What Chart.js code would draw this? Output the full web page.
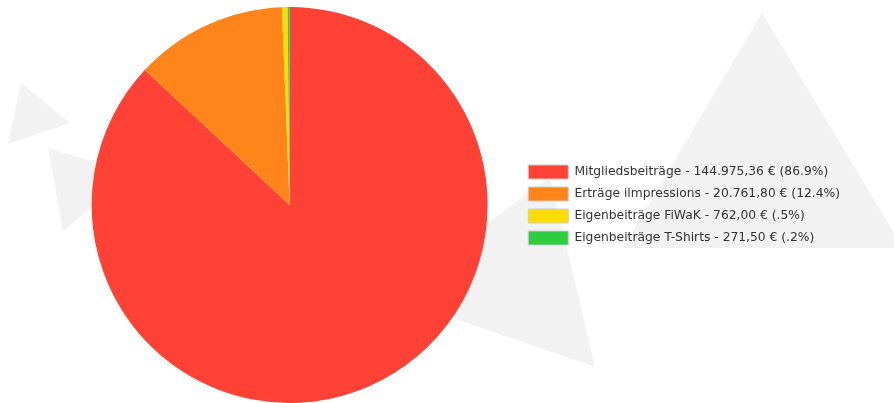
<!DOCTYPE html>
<html>
<head>
<meta charset="utf-8">
<script src="https://cdn.jsdelivr.net/npm/chart.js@4"></script>
<style>
    html, body { margin: 0; padding: 0; background: #fff; }
    #wrap { width: 894px; height: 403px; position: relative; }
</style>
</head>
<body>
<div id="wrap"><canvas id="pieChart"></canvas></div>
<script>
const categories = ['Mitgliedsbeiträge', 'Erträge ilmpressions', 'Eigenbeiträge FiWaK', 'Eigenbeiträge T-Shirts'];
const amounts = [144975.36, 20761.80, 762.00, 271.50];
const amountLabels = ['144.975,36 €', '20.761,80 €', '762,00 €', '271,50 €'];
const percentLabels = ['86.9%', '12.4%', '.5%', '.2%'];
const colors = ['#FF4136', '#FF851B', '#FFDC00', '#2ECC40'];

// grey decoration triangles behind the chart
const triangles = [
    [[21, 83], [70, 123], [8, 144]],
    [[48, 148], [134, 174], [63, 231]],
    [[550, 177], [595, 367], [389, 296]],
    [[762, 13], [903, 248], [623, 248]]
];

const backdrop = {
    id: 'backdrop',
    beforeDraw(chart) {
        const ctx = chart.ctx;
        ctx.save();
        ctx.fillStyle = '#f2f2f2';
        triangles.forEach(t => {
            ctx.beginPath();
            ctx.moveTo(t[0][0], t[0][1]);
            ctx.lineTo(t[1][0], t[1][1]);
            ctx.lineTo(t[2][0], t[2][1]);
            ctx.closePath();
            ctx.fill();
        });
        ctx.restore();
    }
};

(() => {
    'use strict'
    const chart = document.querySelector('#pieChart') ?? '';

    if(chart == ""){
        return false;
    } else{
        new Chart(chart, {
            type: 'pie',
            data: {
                labels: categories,
                datasets: [{
                    data: amounts,
                    backgroundColor: colors,
                    borderWidth: 0
                }]
            },
            options: {
                responsive: true,
                maintainAspectRatio: false,
                animation: false,
                layout: {
                    padding: { left: 59, right: 44, top: 7, bottom: 0 }
                },
                plugins: {
                    legend: {
                        position: 'right',
                        labels: {
                            boxWidth: 40,
                            boxHeight: 14,
                            padding: 8,
                            color: '#333',
                            font: { family: 'DejaVu Sans', size: 12.3 },
                            generateLabels: (c) => categories.map((name, i) => ({
                                text: name + ' - ' + amountLabels[i] + ' (' + percentLabels[i] + ')',
                                fillStyle: colors[i],
                                strokeStyle: '#cccccc',
                                lineWidth: 1,
                                fontColor: '#333',
                                hidden: false,
                                index: i
                            }))
                        }
                    },
                    tooltip: { enabled: false }
                }
            },
            plugins: [backdrop]
        });
    }
})();
</script>
</body>
</html>
